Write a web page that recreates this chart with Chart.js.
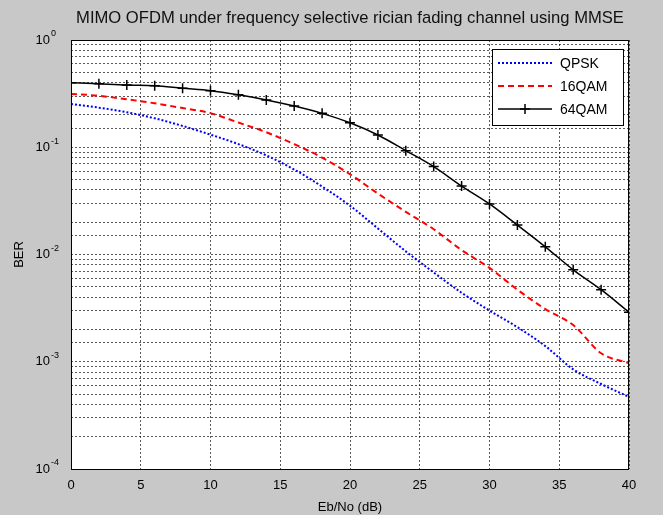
<!DOCTYPE html>
<html lang="en">

<head>
    <meta charset="UTF-8">
    <title>MIMO OFDM BER</title>
    <script src="https://cdn.jsdelivr.net/npm/chart.js"></script>
    <style>
        html, body {
            margin: 0;
            padding: 0;
            background-color: #c8c8c8;
        }

        #wrap {
            width: 663px;
            height: 515px;
        }
    </style>
</head>

<body>
    <div id="wrap">
        <canvas id="chart1" width="663" height="515"></canvas>
    </div>

    <script>
        // Eb/No (dB) and BER
        const ebno = [0, 2, 4, 6, 8, 10, 12, 14, 16, 18, 20, 22, 24, 26, 28, 30, 32, 34, 36, 38, 40];
        const qpsk = [0.253, 0.234, 0.212, 0.186, 0.158, 0.131, 0.107, 0.084, 0.062, 0.043, 0.0285, 0.0175,
            0.0107, 0.0068, 0.0044, 0.0030, 0.0021, 0.0014, 0.00085, 0.00062, 0.00047];
        const qam16 = [0.314, 0.302, 0.280, 0.257, 0.232, 0.208, 0.170, 0.138, 0.107, 0.080, 0.056, 0.037,
            0.025, 0.0172, 0.0110, 0.0075, 0.0047, 0.0031, 0.0022, 0.0012, 0.00097];
        const qam64 = [0.40, 0.39, 0.38, 0.375, 0.355, 0.337, 0.308, 0.276, 0.242, 0.207, 0.169, 0.130,
            0.093, 0.066, 0.0435, 0.0296, 0.0188, 0.0118, 0.0072, 0.0047, 0.0029];
        const seriesNames = ['QPSK', '16QAM', '64QAM'];
        const chartTitle = 'MIMO OFDM under frequency selective rician fading channel using MMSE';
        const xTickStep = 5;
        const berMin = 1e-4;
        const berMax = 1;

        const FONT = '"Liberation Sans", Arial, sans-serif';

        function points(ys) {
            return ebno.map(function (x, i) {
                return { x: x, y: ys[i] };
            });
        }

        function isDecade(v) {
            const e = Math.log10(v);
            return Math.abs(e - Math.round(e)) < 1e-9;
        }

        // gray figure, white axes, black box, title, legend and the 10^n exponents
        const frame = {
            id: 'frame',
            beforeDraw: function (chart) {
                const ctx = chart.ctx;
                const a = chart.chartArea;
                ctx.save();
                ctx.fillStyle = '#c8c8c8';
                ctx.fillRect(0, 0, chart.width, chart.height);
                ctx.fillStyle = '#ffffff';
                ctx.fillRect(a.left, a.top, a.right - a.left, a.bottom - a.top);
                ctx.restore();
            },
            afterDraw: function (chart) {
                const ctx = chart.ctx;
                const a = chart.chartArea;
                ctx.save();
                ctx.strokeStyle = '#000';
                ctx.lineWidth = 1;
                ctx.strokeRect(a.left + 0.5, a.top + 0.5, a.right - a.left - 1, a.bottom - a.top);

                // title centred over the axes, like matlab
                ctx.fillStyle = '#111';
                ctx.font = '16.6px ' + FONT;
                ctx.textAlign = 'center';
                ctx.textBaseline = 'middle';
                ctx.fillText(chartTitle, (a.left + a.right) / 2, 18);

                // exponents of the y tick labels
                const yScale = chart.scales.y;
                ctx.fillStyle = '#000';
                ctx.font = '9px ' + FONT;
                ctx.textAlign = 'left';
                yScale.ticks.forEach(function (t) {
                    if (isDecade(t.value)) {
                        const e = Math.round(Math.log10(t.value));
                        ctx.fillText(String(e), a.left - 20, yScale.getPixelForValue(t.value) - 6);
                    }
                });

                // legend box, top right inside the axes
                const ds = chart.data.datasets;
                const bx = a.right - 137, by = a.top + 9, bw = 131, bh = 76;
                ctx.fillStyle = '#fff';
                ctx.fillRect(bx, by, bw, bh);
                ctx.strokeRect(bx + 0.5, by + 0.5, bw, bh);
                ctx.font = '14px ' + FONT;
                ds.forEach(function (d, i) {
                    const y = by + 14 + i * 23;
                    ctx.strokeStyle = d.borderColor;
                    ctx.lineWidth = d.borderWidth;
                    ctx.setLineDash(d.borderDash || []);
                    ctx.beginPath();
                    ctx.moveTo(bx + 6, y);
                    ctx.lineTo(bx + 60, y);
                    ctx.stroke();
                    ctx.setLineDash([]);
                    if (d.pointRadius > 0) {
                        ctx.lineWidth = 1.5;
                        ctx.beginPath();
                        ctx.moveTo(bx + 33, y - 5);
                        ctx.lineTo(bx + 33, y + 5);
                        ctx.moveTo(bx + 28, y);
                        ctx.lineTo(bx + 38, y);
                        ctx.stroke();
                    }
                    ctx.fillStyle = '#000';
                    ctx.fillText(d.label, bx + 68, y + 1);
                });
                ctx.restore();
            }
        };

        const gridStyle = {
            color: 'rgba(0, 0, 0, 0.65)',
            lineWidth: 1,
            drawTicks: false
        };

        const config = {
            type: 'line',
            data: {
                datasets: [{
                    label: seriesNames[0],
                    data: points(qpsk),
                    borderColor: '#0000ff',
                    borderWidth: 2,
                    borderDash: [2, 2],
                    pointRadius: 0,
                    cubicInterpolationMode: 'monotone'
                }, {
                    label: seriesNames[1],
                    data: points(qam16),
                    borderColor: '#ff0000',
                    borderWidth: 2,
                    borderDash: [6, 4],
                    pointRadius: 0,
                    cubicInterpolationMode: 'monotone'
                }, {
                    label: seriesNames[2],
                    data: points(qam64),
                    borderColor: '#000000',
                    borderWidth: 1.5,
                    pointStyle: 'cross',
                    pointRadius: 5,
                    pointBorderWidth: 1.5,
                    pointBorderColor: '#000',
                    cubicInterpolationMode: 'monotone'
                }]
            },
            options: {
                responsive: false,
                animation: false,
                layout: {
                    padding: { left: 0, right: 34, top: 40, bottom: 0 }
                },
                plugins: {
                    legend: { display: false },
                    tooltip: { enabled: false },
                    title: { display: false }
                },
                scales: {
                    x: {
                        type: 'linear',
                        min: 0,
                        max: 40,
                        ticks: {
                            stepSize: xTickStep,
                            color: '#000',
                            padding: 9,
                            font: { family: FONT, size: 13 }
                        },
                        grid: gridStyle,
                        border: { display: false, dash: [2, 2] },
                        title: {
                            display: true,
                            text: 'Eb/No (dB)',
                            color: '#000',
                            font: { family: FONT, size: 13 },
                            padding: { top: 2, bottom: 0 }
                        },
                        afterFit: function (scale) {
                            scale.height = 46;
                        }
                    },
                    y: {
                        type: 'logarithmic',
                        min: berMin,
                        max: berMax,
                        ticks: {
                            autoSkip: false,
                            color: '#000',
                            padding: 21,
                            font: { family: FONT, size: 13 },
                            callback: function (v) {
                                return isDecade(v) ? '10' : '';
                            }
                        },
                        grid: gridStyle,
                        border: { display: false, dash: [2, 2] },
                        title: {
                            display: true,
                            text: 'BER',
                            color: '#000',
                            font: { family: FONT, size: 13 },
                            padding: { top: 12, bottom: 0 }
                        },
                        afterFit: function (scale) {
                            scale.width = 71;
                        }
                    }
                }
            },
            plugins: [frame]
        };

        new Chart(document.getElementById('chart1'), config);
    </script>
</body>

</html>
